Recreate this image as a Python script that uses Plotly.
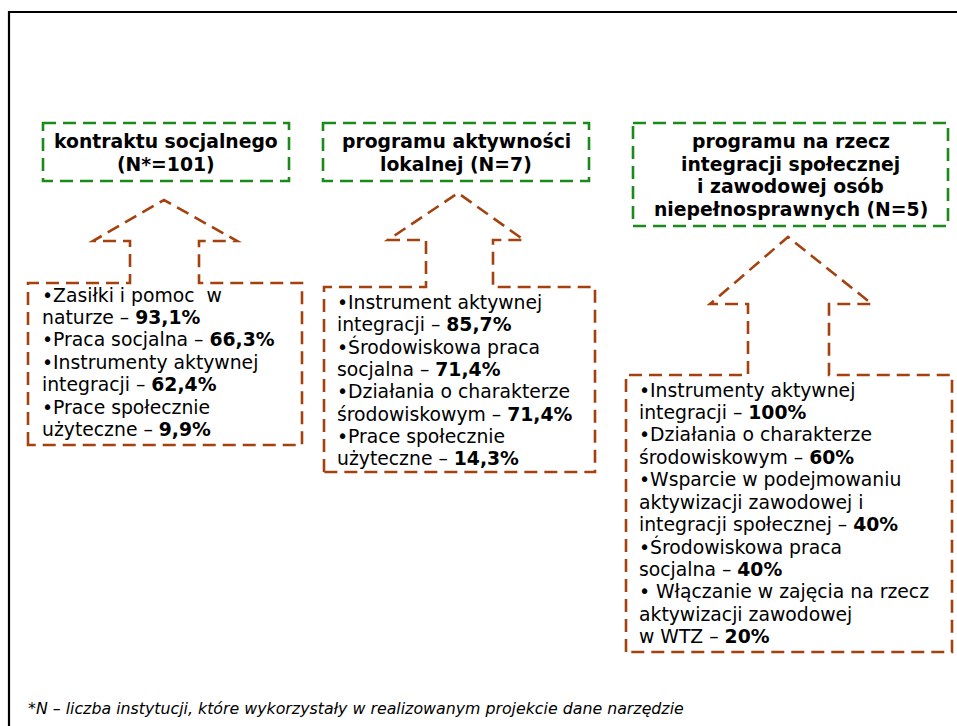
import plotly.graph_objects as go

# ---------------- data ----------------
tool_names = ["kontraktu socjalnego\n(N*={n})",
              "programu aktywności\nlokalnej (N={n})",
              "programu na rzecz\nintegracji społecznej\ni zawodowej osób\nniepełnosprawnych (N={n})"]
n_institutions = [101, 7, 5]

labels_1 = ["Zasiłki i pomoc  w\nnaturze", "Praca socjalna",
            "Instrumenty aktywnej\nintegracji", "Prace społecznie\nużyteczne"]
values_1 = [93.1, 66.3, 62.4, 9.9]

labels_2 = ["Instrument aktywnej\nintegracji", "Środowiskowa praca\nsocjalna",
            "Działania o charakterze\nśrodowiskowym", "Prace społecznie\nużyteczne"]
values_2 = [85.7, 71.4, 71.4, 14.3]

labels_3 = ["Instrumenty aktywnej\nintegracji", "Działania o charakterze\nśrodowiskowym",
            "Wsparcie w podejmowaniu\naktywizacji zawodowej i\nintegracji społecznej",
            "Środowiskowa praca\nsocjalna",
            "\u00a0Włączanie w zajęcia na rzecz\naktywizacji zawodowej\nw WTZ"]
values_3 = [100, 60, 40, 40, 20]

decimals = [1, 1, 0]
footnote = "*N – liczba instytucji, które wykorzystały w realizowanym projekcie dane narzędzie"

# ---------------- layout geometry ----------------
W, H = 957, 726
GREEN = "#1b8a1b"
BROWN = "#a3420f"
FONT = "DejaVu Sans"
FS = 18.8
LH = 22.4

# green title boxes: x0, x1, y0, y1
title_boxes = [(43, 289, 123, 181), (323, 589, 123, 181), (633, 948, 123, 226)]
arrows = [
    dict(tx=164, ty=200, by=241, bl=93, br=237, sl=130, sr=199, top=283, left=28, right=302, bottom=445, tx0=40, ty0=295),
    dict(tx=458, ty=193, by=240, bl=388, br=524, sl=426, sr=493, top=287, left=324, right=595, bottom=472, tx0=335, ty0=302),
    dict(tx=788, ty=237, by=304, bl=710, br=872, sl=748, sr=829, top=375, left=626, right=952, bottom=652, tx0=637, ty0=390),
]

fig = go.Figure()
shapes = []
annotations = []

# outer frame
shapes.append(dict(type="rect", x0=9, y0=12, x1=980, y1=760,
                   line=dict(color="black", width=2.2), layer="above"))

def fmt(v, d):
    s = f"{v:.{d}f}".replace(".", ",")
    return s + "%"

groups = [(labels_1, values_1), (labels_2, values_2), (labels_3, values_3)]

for i in range(3):
    x0, x1, y0, y1 = title_boxes[i]
    shapes.append(dict(type="rect", x0=x0, x1=x1, y0=y0, y1=y1,
                       line=dict(color=GREEN, width=2.6, dash="13px,7px"), layer="above"))
    lines = tool_names[i].format(n=n_institutions[i]).split("\n")
    cy = (y0 + y1) / 2
    start = cy - (len(lines) - 1) * LH / 2 + 1
    for k, ln in enumerate(lines):
        annotations.append(dict(x=(x0 + x1) / 2, y=start + k * LH, text="<b>" + ln + "</b>",
                                showarrow=False, xanchor="center", yanchor="middle",
                                font=dict(family=FONT, size=FS, color="black")))

    a = arrows[i]
    path = (f"M {a['left']},{a['bottom']} L {a['left']},{a['top']} L {a['sl']},{a['top']} "
            f"L {a['sl']},{a['by']} L {a['bl']},{a['by']} L {a['tx']},{a['ty']} "
            f"L {a['br']},{a['by']} L {a['sr']},{a['by']} L {a['sr']},{a['top']} "
            f"L {a['right']},{a['top']} L {a['right']},{a['bottom']} Z")
    shapes.append(dict(type="path", path=path,
                       line=dict(color=BROWN, width=2.6, dash="13px,7px"), layer="above"))

    labels, values = groups[i]
    row = 0
    for lab, val in zip(labels, values):
        parts = lab.split("\n")
        for k, p in enumerate(parts):
            t = ("•" if k == 0 else "") + p
            if k == len(parts) - 1:
                t += " – <b>" + fmt(val, decimals[i]) + "</b>"
            annotations.append(dict(x=a["tx0"], y=a["ty0"] + row * LH, text=t,
                                    showarrow=False, xanchor="left", yanchor="middle",
                                    font=dict(family=FONT, size=FS, color="black")))
            row += 1

annotations.append(dict(x=26, y=708, text="<i>" + footnote + "</i>", showarrow=False,
                        xanchor="left", yanchor="middle",
                        font=dict(family=FONT, size=15.8, color="black")))

fig.update_layout(
    width=W, height=H, margin=dict(l=0, r=0, t=0, b=0),
    paper_bgcolor="white", plot_bgcolor="white",
    xaxis=dict(range=[0, W], visible=False, fixedrange=True),
    yaxis=dict(range=[H, 0], visible=False, fixedrange=True),
    shapes=shapes, annotations=annotations, showlegend=False,
)
fig.write_html("out.html", config={"displayModeBar": False},
               post_script="document.body.style.margin='0';document.body.style.overflow='hidden';")
